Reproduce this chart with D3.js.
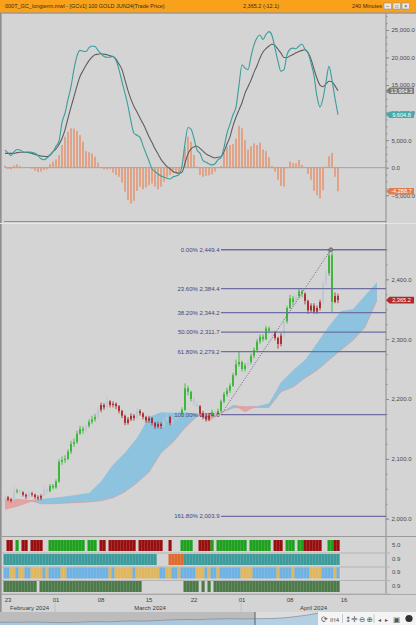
<!DOCTYPE html>
<html>
<head>
<meta charset="utf-8">
<style>
  body { margin: 0; background: #d4d4d4; }
  svg { display: block; font-family: "Liberation Sans", Arial, sans-serif; }
  .axis .domain { display: none; }
  .axis .tick line { stroke: #8c8c8c; }
  .axis .tick text { fill: #4a4a4a; font-size: 6px; }
</style>
</head>
<body>
<div id="chart"></div>
<script src="https://d3js.org/d3.v7.min.js"></script>
<script>
// ---- price bars (240 min), one value per bar ----
var firstOpen = 2034;
var closes = [2036,2032,2030,2045,2047,2044,2040,2037,2042,2040,
  2036,2034,2038,2048,2046,2055,2052,2062,2095,2098,
  2100,2112,2125,2128,2142,2150,2147,2155,2162,2166,
  2170,2182,2190,2186,2196,2190,2192,2188,2180,2172,
  2160,2166,2172,2168,2180,2176,2170,2164,2168,2160,
  2154,2158,2155,2164,2170,2160,2165,2170,2176,2182,
  2218,2212,2200,2192,2188,2176,2170,2166,2172,2178,
  2174,2180,2196,2208,2214,2222,2240,2258,2262,2250,
  2256,2262,2272,2282,2296,2304,2300,2318,2314,2312,
  2302,2292,2306,2330,2352,2368,2362,2372,2380,2376,
  2364,2348,2356,2346,2352,2362,2392,2410,2440,2362,
  2372,2365.2];
var highs = [2040,2038,2035,2055,2050,2049,2046,2042,2046,2045,
  2042,2039,2041,2056,2051,2058,2058,2066,2099,2104,
  2106,2116,2130,2134,2147,2155,2154,2160,2166,2172,
  2175,2186,2194,2193,2206,2198,2196,2194,2190,2182,
  2174,2170,2176,2175,2186,2183,2178,2172,2172,2170,
  2162,2162,2161,2168,2175,2172,2169,2174,2180,2186,
  2226,2222,2214,2203,2196,2190,2180,2174,2176,2182,
  2181,2184,2199,2212,2219,2226,2244,2266,2279,2264,
  2260,2266,2276,2286,2300,2308,2308,2322,2321,2318,
  2314,2304,2310,2336,2356,2374,2372,2376,2384,2383,
  2378,2366,2360,2360,2356,2366,2398,2416,2449.4,2445,
  2378,2376];
var lows = [2030,2029,2027,2029,2042,2041,2037,2033,2035,2037,
  2033,2031,2031,2036,2042,2044,2049,2050,2060,2090,
  2093,2098,2108,2120,2125,2140,2142,2144,2152,2158,
  2162,2168,2178,2182,2183,2186,2186,2183,2176,2168,
  2156,2157,2163,2164,2166,2172,2166,2160,2160,2156,
  2150,2151,2150,2153,2162,2156,2157,2162,2167,2173,
  2180,2206,2196,2188,2184,2172,2166,2162,2163,2170,
  2170,2174,2178,2193,2204,2210,2220,2238,2254,2246,
  2246,2252,2258,2268,2278,2292,2296,2298,2310,2306,
  2298,2284,2288,2302,2326,2350,2356,2358,2368,2370,
  2358,2342,2344,2342,2342,2348,2358,2388,2406,2344,
  2360,2360];
// bar paint (g = up trend, r = down trend, n = neutral), as runs
var paintRuns = [["n",1],["r",2],["n",1],["g",1],["n",1],["r",2],["n",1],["r",4],["n",2],["g",12],
  ["n",1],["g",3],["n",1],["r",2],["n",1],["r",9],["n",1],["r",8],["n",2],["r",1],["n",3],["g",4],
  ["n",2],["r",4],["g",1],["n",1],["g",10],["n",1],["g",7],["n",1],["r",3],["n",1],["g",3],["n",1],
  ["g",2],["r",6],["n",2],["g",2],["r",2]];

// ---- upper study ----
var fastLine = [3200,2700,2200,2850,3300,3200,2900,2800,2850,2800,
  2600,2200,1600,1450,1750,2300,2850,3900,4800,8200,
  9900,12400,14700,17900,20300,21300,21150,21100,21800,22100,
  22000,21300,20700,20200,20050,20050,20200,19500,17800,15600,
  13500,11200,8400,6250,5900,5500,4000,2600,1200,-200,
  -700,-1150,-1500,-1700,-1900,-2050,-1700,-1500,-1250,300,
  4400,7300,7000,5300,3200,2600,1300,1000,700,500,
  700,1450,1800,3700,6250,7900,9600,11000,15000,18700,
  18100,17800,20200,22300,23600,24100,23300,24200,24700,24000,
  21700,19300,17500,17800,20500,21500,21700,21600,22100,22400,
  21500,20800,19000,16700,12900,11000,12600,15600,18400,15900,
  12600,9604.8];
var slowLine = [2600,2600,2600,2600,2730,2800,2800,2800,2730,2600,
  2400,2250,2100,2050,2000,2300,2900,3400,4200,5300,
  6850,9000,11000,12900,14850,16550,17600,18600,19450,20060,
  20500,20600,20700,20600,20500,20300,20200,19700,18800,17800,
  15900,14000,12400,11100,10100,9000,8000,6850,5600,4550,
  3450,2500,1500,800,200,-200,-700,-900,-1000,-800,
  800,2500,3400,3800,3900,3500,3000,2500,2200,1950,
  1760,1900,2000,2900,4300,5600,7600,9150,10500,11800,
  13500,14700,15900,17300,18500,19900,21000,21600,22100,22400,
  22200,21500,20800,20000,20000,20300,20550,20850,21100,21300,
  21400,20900,19700,17900,16200,15000,14700,15200,15700,15600,
  14850,13964.3];
var histo = [370,-250,-300,400,600,300,0,-50,0,-200,
  -550,-800,-700,-400,-300,650,1100,1500,2300,4100,
  5600,6500,7150,7100,6700,5900,4700,3000,2800,2600,
  2000,900,-100,-300,-300,-250,-900,-1350,-1650,-2700,
  -4350,-5900,-6500,-6000,-4200,-3450,-3900,-3600,-3200,-2850,
  -3450,-3900,-3450,-2550,-1650,-1350,-1000,-1000,-900,200,
  3800,5600,4700,2300,200,-1350,-1650,-1500,-1400,-1200,
  -700,0,300,2700,3800,4100,4300,5300,7600,7150,
  5000,3300,3900,4400,4100,4550,3300,3000,1900,300,
  -700,-2200,-3300,-3450,-100,1100,800,800,1400,500,
  0,-1150,-2200,-4200,-5000,-5600,-4100,200,2100,2700,
  -1650,-4288.7];

// ---- ichimoku cloud (every 4th bar, runs 13 slots past the last bar) ----
var cloudIdx = [0,4,8,12,16,20,24,28,32,36,40,44,48,52,56,60,64,68,72,76,80,84,88,92,96,100,104,108,112,116,120,124];
var spanA = [2015,2020,2027,2033,2035,2037,2040,2043,2062,2090,2110,2135,2170,2178,2177,2178,2175,2163,2176,2190,2178,2188,2193,2228,2248,2265,2293,2322,2347,2350,2373,2395];
var spanB = [2032,2032,2031,2025,2025,2026,2027,2028,2030,2035,2045,2060,2078,2110,2128,2152,2171,2176,2177,2185,2187,2186,2186,2212,2220,2235,2248,2265,2282,2298,2320,2365];

// ---- fibonacci retracement ----
var fibRatios = ["0.00%","23.60%","38.20%","50.00%","61.80%","100.00%","161.80%"];
var fibPrices = [2449.4,2384.4,2344.2,2311.7,2279.2,2174.0,2003.9];
var fibAnchorIdx = [72, 108.6];
var fibAnchorPrice = [2174.0, 2449.4];

// ---- indicator strips (runs) ----
var stripLabels = ["5.0","0.9","0.9","0.9"];
var regimeRuns = [["t",51],[null,4],["o",5],["t",52]];
var cycleRuns = [["b",2],["y",2],["b",1],["y",2],["b",2],["y",4],["b",1],["y",1],["b",4],["y",2],
  ["b",14],["y",1],["b",1],["y",6],["b",1],["y",8],["b",2],["y",2],["b",2],["y",1],["b",5],["y",3],
  ["b",1],["y",1],["b",2],["y",1],["b",7],["y",4],["b",8],["y",1],["b",4],["y",1],["b",5],["y",4],
  ["b",4],["y",1],["b",1]];
var volRuns = [["d",11],[null,1],["d",34],[null,14],["d",5],[null,1],["d",1],[null,1],["d",1],[null,1],["d",42]];

// ---- time axis ----
var dateTickIdx = [1, 17, 32, 48, 63, 79, 95, 113];
var dateTickLabels = ["23","01","08","15","22","01","08","16"];
var monthBreakIdx = [16.7, 78.7];
var monthLabels = ["February 2024","March 2024","April 2024"];

// ---- navigator (long history) ----
var navPrices = [1835,1850,1840,1860,1845,1830,1825,1840,1870,1880,1865,1900,1920,1905,1930,
  1960,1985,2000,1990,2020,2035,2045,2030,2040,2050,2060,2100,2170,2250,2365];

function expand(runs) {
  var out = [];
  runs.forEach(function(r) { for (var k = 0; k < r[1]; k++) out.push(r[0]); });
  return out;
}
var paint = expand(paintRuns);

var W = 416, H = 625, plotL = 2, plotR = 386;
var x = d3.scaleLinear().domain([0, 127]).range([5, 386]);
var yTop = d3.scaleLinear().domain([-5000, 25000]).range([195.2, 30.0]);
var yMain = d3.scaleLinear().domain([2000, 2400]).range([518.7, 279.3]);
var fmt = d3.format(",.1f");

var svg = d3.select("#chart").append("svg").attr("width", W).attr("height", H);
svg.append("rect").attr("width", W).attr("height", H).attr("fill", "#d4d4d4");

var defs = svg.append("defs");
defs.append("clipPath").attr("id", "clipTop").append("rect")
  .attr("x", plotL).attr("y", 20).attr("width", plotR - plotL).attr("height", 201);
defs.append("clipPath").attr("id", "clipMain").append("rect")
  .attr("x", plotL).attr("y", 224).attr("width", plotR - plotL).attr("height", 312);

// title bar
svg.append("rect").attr("x", 0).attr("y", 0).attr("width", W).attr("height", 12.5).attr("fill", "#f9a11b");
svg.append("line").attr("x1", 0).attr("x2", W).attr("y1", 13).attr("y2", 13).attr("stroke", "#8a7a60");
var title = svg.append("g").style("font-size", "5.5px").attr("fill", "#3a2a10");
title.append("text").attr("x", 5).attr("y", 8.4).text("000T_GC_longterm.mwl - [GCv1] 100 GOLD JUN24(Trade Price)");
title.append("text").attr("x", 243).attr("y", 8.4).text("2,365.2 (-12.1)");
title.append("text").attr("x", 352).attr("y", 8.4).text("240 Minutes");
[384, 393, 402].forEach(function(bx, k) {
  title.append("rect").attr("x", bx).attr("y", 3).attr("width", 7.5).attr("height", 6)
    .attr("fill", "#e8e8e8").attr("stroke", "#888").attr("stroke-width", 0.5);
  title.append("text").attr("x", bx + 3.75).attr("y", 8).attr("text-anchor", "middle")
    .style("font-size", "5px").attr("fill", "#333").text(["\u2013", "\u25a1", "\u00d7"][k]);
});

// frame
svg.append("rect").attr("x", 0).attr("y", 13).attr("width", 1.6).attr("height", 599).attr("fill", "#8e8e8e");
svg.append("line").attr("x1", plotR).attr("x2", plotR).attr("y1", 13).attr("y2", 594)
  .attr("stroke", "#979797").attr("stroke-width", 1.2);

// ---------- upper study ----------
var topG = svg.append("g").attr("clip-path", "url(#clipTop)");
topG.append("line").attr("x1", 5).attr("x2", plotR).attr("y1", yTop(0)).attr("y2", yTop(0))
  .attr("stroke", "#a4a4a4").attr("stroke-width", 1);
topG.selectAll(".hb").data(histo).enter().append("rect")
  .attr("x", function(d, i) { return x(i) - 0.9; })
  .attr("width", 1.8)
  .attr("y", function(d) { return yTop(Math.max(0, d)); })
  .attr("height", function(d) { return Math.abs(yTop(d) - yTop(0)); })
  .attr("fill", "#e39470").attr("opacity", 0.85);
var studyLine = d3.line().x(function(d, i) { return x(i); }).y(function(d) { return yTop(d); }).curve(d3.curveMonotoneX);
topG.append("path").attr("d", studyLine(slowLine)).attr("fill", "none").attr("stroke", "#5e5e5e").attr("stroke-width", 1.1);
topG.append("path").attr("d", studyLine(fastLine)).attr("fill", "none").attr("stroke", "#3a9e9c").attr("stroke-width", 1.1);

svg.append("g").attr("class", "axis").attr("transform", "translate(" + plotR + ",0)")
  .call(d3.axisRight(yTop).tickValues(d3.range(-5000, 27501, 1250)).tickSize(1.5).tickFormat(""));
svg.append("g").attr("class", "axis").attr("transform", "translate(" + plotR + ",0)")
  .call(d3.axisRight(yTop).tickValues([-5000, 0, 5000, 10000, 15000, 20000, 25000]).tickSize(3).tickPadding(2.5)
    .tickFormat(fmt));

// panel separator
svg.append("line").attr("x1", 4).attr("x2", plotR).attr("y1", 221.5).attr("y2", 221.5).attr("stroke", "#8e8e8e").attr("stroke-width", 1.2);
svg.append("line").attr("x1", 0).attr("x2", W).attr("y1", 223.5).attr("y2", 223.5).attr("stroke", "#e6e6e6").attr("stroke-width", 1);

function tag(y, text, fill) {
  var g = svg.append("g");
  g.append("path").attr("d", "M386," + y + "L389.5," + (y - 3.3) + "L414," + (y - 3.3) + "L414," + (y + 3.3) + "L389.5," + (y + 3.3) + "Z")
    .attr("fill", fill);
  g.append("text").attr("x", 401.5).attr("y", y + 2).attr("text-anchor", "middle")
    .style("font-size", "5.6px").attr("fill", "#fff").text(text);
}
tag(yTop(slowLine[slowLine.length - 1]), fmt(slowLine[slowLine.length - 1]), "#7b7b7b");
tag(yTop(fastLine[fastLine.length - 1]), fmt(fastLine[fastLine.length - 1]), "#4aa9a7");
tag(yTop(histo[histo.length - 1]), fmt(histo[histo.length - 1]).replace("\u2212", "-"), "#e17c4d");

// ---------- price panel ----------
var mainG = svg.append("g").attr("clip-path", "url(#clipMain)");

var cloud = cloudIdx.map(function(ci, k) { return { i: ci, a: spanA[k], b: spanB[k] }; });
var bull = d3.area().x(function(d) { return x(d.i); })
  .y0(function(d) { return yMain(d.b); })
  .y1(function(d) { return yMain(Math.max(d.a, d.b)); });
var bear = d3.area().x(function(d) { return x(d.i); })
  .y0(function(d) { return yMain(d.a); })
  .y1(function(d) { return yMain(Math.max(d.a, d.b)); });
mainG.append("path").attr("d", bull(cloud)).attr("fill", "#8ec3df");
mainG.append("path").attr("d", bear(cloud)).attr("fill", "#e3a3a3");
mainG.append("path").attr("d", d3.line().x(function(d) { return x(d.i); }).y(function(d) { return yMain(d.b); })(cloud))
  .attr("fill", "none").attr("stroke", "#d99c9c").attr("stroke-width", 0.7);

var candles = closes.map(function(c, i) {
  return { i: i, o: i ? closes[i - 1] : firstOpen, h: highs[i], l: lows[i], c: c, k: paint[i] };
});
var paintColor = { g: "#2cb42c", r: "#a71e1e", n: "#bcc6d2" };
var cg = mainG.selectAll(".cdl").data(candles).enter().append("g");
cg.append("line")
  .attr("x1", function(d) { return x(d.i); }).attr("x2", function(d) { return x(d.i); })
  .attr("y1", function(d) { return yMain(d.h); }).attr("y2", function(d) { return yMain(d.l); })
  .attr("stroke", function(d) { return paintColor[d.k]; }).attr("stroke-width", 0.8);
cg.append("rect")
  .attr("x", function(d) { return x(d.i) - 0.8; }).attr("width", 1.6)
  .attr("y", function(d) { return yMain(Math.max(d.o, d.c)); })
  .attr("height", function(d) { return Math.max(1, Math.abs(yMain(d.o) - yMain(d.c))); })
  .attr("fill", function(d) { return paintColor[d.k]; });

// fib
var fibX0 = x(fibAnchorIdx[0]);
mainG.selectAll(".fibl").data(fibPrices).enter().append("line")
  .attr("x1", fibX0).attr("x2", plotR)
  .attr("y1", function(d) { return yMain(d); }).attr("y2", function(d) { return yMain(d); })
  .attr("stroke", "#6e6ea0").attr("stroke-width", 1.3);
mainG.append("line")
  .attr("x1", x(fibAnchorIdx[0])).attr("y1", yMain(fibAnchorPrice[0]))
  .attr("x2", x(fibAnchorIdx[1])).attr("y2", yMain(fibAnchorPrice[1]))
  .attr("stroke", "#55557f").attr("stroke-width", 0.8).attr("stroke-dasharray", "1.2,1.5");
mainG.append("circle").attr("cx", x(fibAnchorIdx[1])).attr("cy", yMain(fibAnchorPrice[1])).attr("r", 2)
  .attr("fill", "#8a8a8a").attr("stroke", "#555").attr("stroke-width", 0.6);
mainG.selectAll(".fibt").data(fibPrices).enter().append("text")
  .attr("x", fibX0 - 1.5).attr("y", function(d) { return yMain(d) + 2; })
  .attr("text-anchor", "end").style("font-size", "6px").attr("fill", "#45457a")
  .text(function(d, k) { return fibRatios[k] + " " + fmt(d); });

svg.append("g").attr("class", "axis").attr("transform", "translate(" + plotR + ",0)")
  .call(d3.axisRight(yMain).tickValues(d3.range(2000, 2451, 25)).tickSize(1.5).tickFormat(""));
svg.append("g").attr("class", "axis").attr("transform", "translate(" + plotR + ",0)")
  .call(d3.axisRight(yMain).tickValues([2000, 2100, 2200, 2300, 2400]).tickSize(3).tickPadding(2.5)
    .tickFormat(fmt));
tag(yMain(closes[closes.length - 1]), fmt(closes[closes.length - 1]), "#b22a2a");

// ---------- strips ----------
svg.append("line").attr("x1", 2).attr("x2", W).attr("y1", 536.5).attr("y2", 536.5).attr("stroke", "#9a9a9a");
var rowsY = [540, 554, 567.5, 581];
var rowH = 11;
var rows = [
  { cells: paint, colors: { g: "#1fa11f", r: "#980f0f", n: null } },
  { cells: expand(regimeRuns), colors: { t: "#3d9c9b", o: "#de6a2c" } },
  { cells: expand(cycleRuns), colors: { b: "#6cb2e4", y: "#e0b75f" } },
  { cells: expand(volRuns), colors: { d: "#4c7a48" } }
];
rows.forEach(function(row, r) {
  var g = svg.append("g");
  g.selectAll("rect").data(row.cells.map(function(c, i) { return { i: i, c: c }; })
      .filter(function(d) { return d.c && row.colors[d.c]; }))
    .enter().append("rect")
    .attr("x", function(d) { return x(d.i) - 1.5; }).attr("width", 3.15)
    .attr("y", rowsY[r]).attr("height", rowH)
    .attr("fill", function(d) { return row.colors[d.c]; });
  svg.append("line").attr("x1", 2).attr("x2", plotR + 4).attr("y1", rowsY[r] + rowH + 2).attr("y2", rowsY[r] + rowH + 2)
    .attr("stroke", "#b4b4b4").attr("stroke-width", 1);
  svg.append("text").attr("x", 392).attr("y", rowsY[r] + 6.5).style("font-size", "6px").attr("fill", "#4a4a4a")
    .text(stripLabels[r]);
});

// ---------- time axis ----------
svg.append("line").attr("x1", 2).attr("x2", W).attr("y1", 594.5).attr("y2", 594.5).attr("stroke", "#a8a8a8");
var tg = svg.append("g").style("font-size", "6px").attr("fill", "#3c3c3c");
dateTickIdx.forEach(function(ti, k) {
  tg.append("text").attr("x", x(ti)).attr("y", 601.5).attr("text-anchor", "middle").text(dateTickLabels[k]);
});
var edges = [0].concat(monthBreakIdx.map(function(b) { return x(b); }), [plotR]);
monthLabels.forEach(function(m, k) {
  var cx = (edges[k] + edges[k + 1]) / 2 + (k === 2 ? 0 : 2);
  tg.append("text").attr("x", cx).attr("y", 609.8).attr("text-anchor", "middle").text(m);
});
monthBreakIdx.forEach(function(b) {
  svg.append("line").attr("x1", x(b)).attr("x2", x(b)).attr("y1", 603).attr("y2", 612)
    .attr("stroke", "#bdbdbd").attr("stroke-width", 0.8);
});

// ---------- navigator ----------
var navX = d3.scaleLinear().domain([0, navPrices.length - 1]).range([0, 318]);
var navY = d3.scaleLinear().domain([1800, 2400]).range([623, 612.5]);
svg.append("rect").attr("x", 0).attr("y", 612).attr("width", 318).attr("height", 13).attr("fill", "#dcdcdc");
svg.append("rect").attr("x", 0).attr("y", 612).attr("width", 255).attr("height", 13).attr("fill", "#bcbcbc");
svg.append("path").attr("d", d3.area().x(function(d, i) { return navX(i); }).y0(625).y1(function(d) { return navY(d); })(navPrices))
  .attr("fill", "#a7cbe6").attr("opacity", 0.75);
svg.append("path").attr("d", d3.line().x(function(d, i) { return navX(i); }).y(function(d) { return navY(d); })(navPrices))
  .attr("fill", "none").attr("stroke", "#7e8a96").attr("stroke-width", 0.7);
svg.append("line").attr("x1", 255).attr("x2", 255).attr("y1", 612).attr("y2", 625).attr("stroke", "#707070").attr("stroke-width", 1.2);
svg.append("rect").attr("x", 318).attr("y", 612).attr("width", 98).attr("height", 13).attr("fill", "#f4f4f4");
var tb = svg.append("g").style("font-family", "'DejaVu Sans', sans-serif").attr("fill", "#555");
var icons = [[321, "\u27f3", 8], [330, "IH4", 5.5], [345, "\u2195", 7.5], [351, "\u271b", 8], [359, "\u2296", 7.5], [366.5, "\u2295", 7.5],
  [378, "\u25c2", 6], [385, "\u25b8", 6], [393, "\u25a3", 7.5]];
icons.forEach(function(ic) {
  tb.append("text").attr("x", ic[0]).attr("y", 621.5).style("font-size", ic[2] + "px").text(ic[1]);
});
[342.5, 374].forEach(function(sx) {
  svg.append("line").attr("x1", sx).attr("x2", sx).attr("y1", 614).attr("y2", 623).attr("stroke", "#c8c8c8");
});
svg.append("circle").attr("cx", 409).attr("cy", 618.5).attr("r", 3.6).attr("fill", "#303030");
</script>
</body>
</html>
